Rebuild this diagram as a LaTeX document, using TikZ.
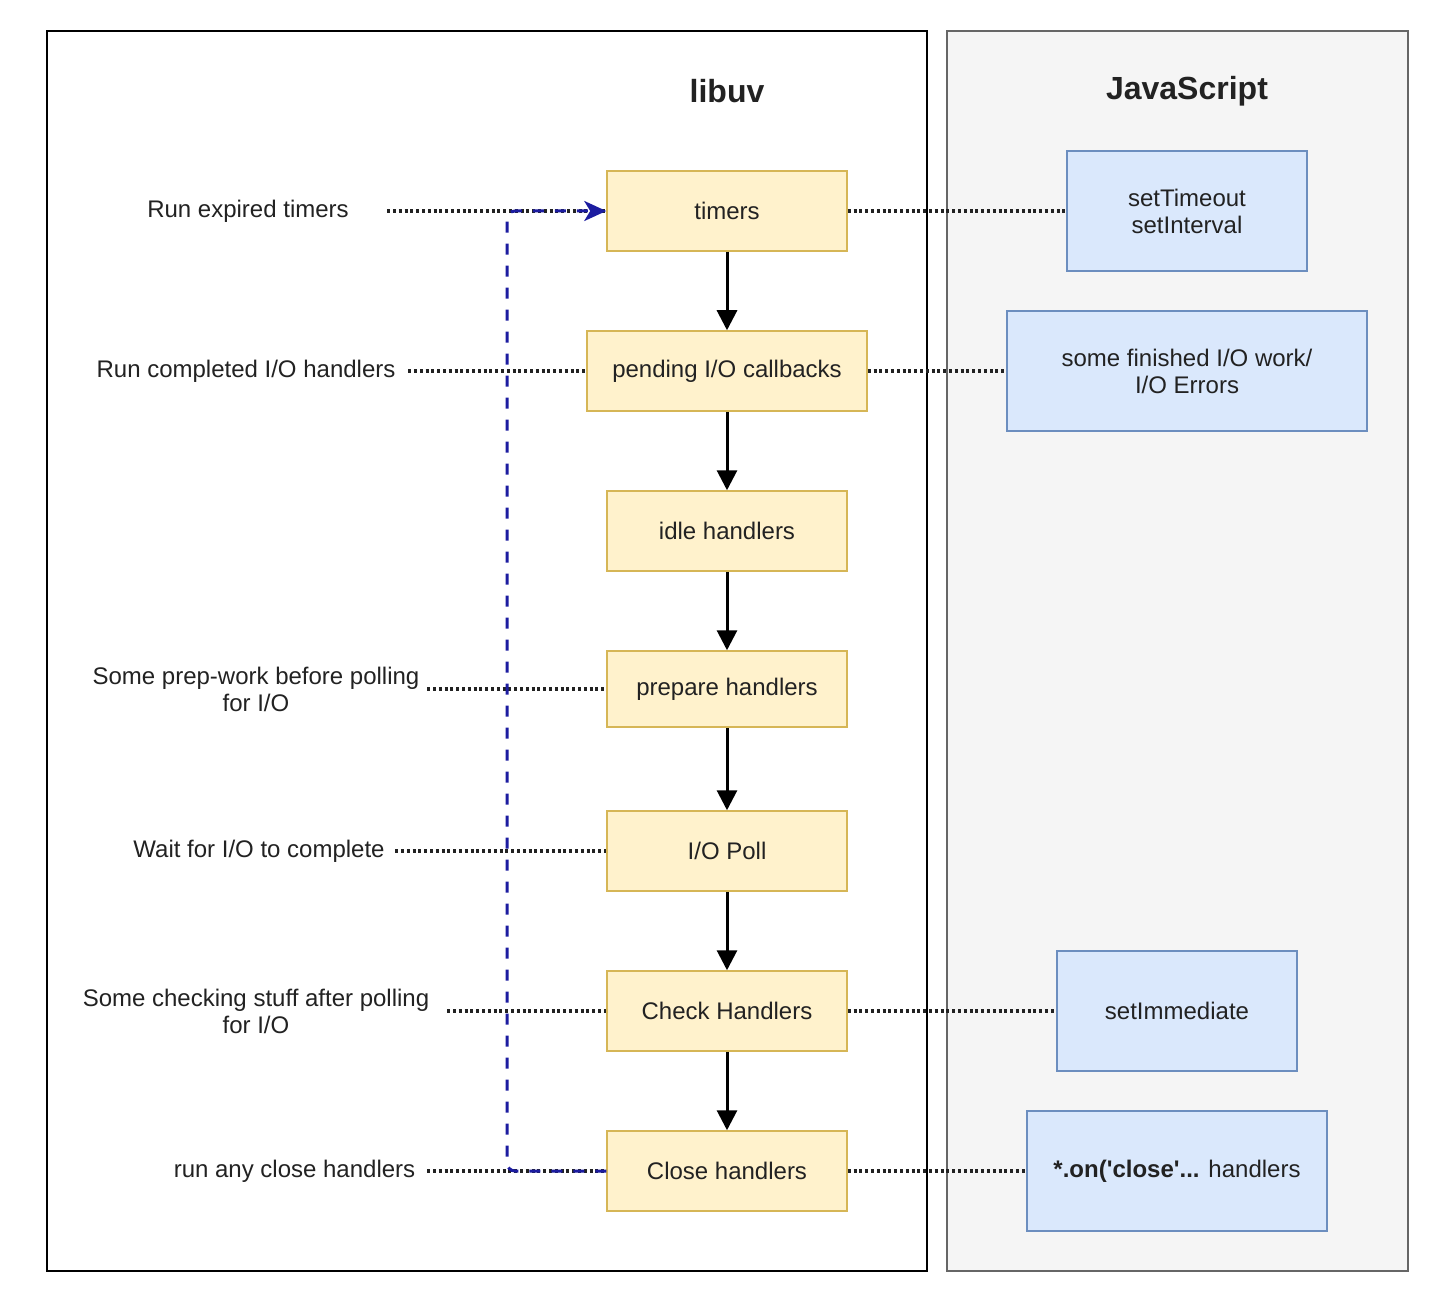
\documentclass[tikz,border=0pt]{standalone}
\usepackage{fontspec}
\setmainfont{Liberation Sans}
\usetikzlibrary{arrows.meta}
\definecolor{yfill}{HTML}{FFF2CC}
\definecolor{ydraw}{HTML}{D6B656}
\definecolor{bfill}{HTML}{DAE8FC}
\definecolor{bdraw}{HTML}{6C8EBF}
\definecolor{jsfill}{HTML}{F5F5F5}
\definecolor{jsdraw}{HTML}{666666}
\definecolor{txt}{HTML}{222222}
\definecolor{loopblue}{RGB}{28,28,160}
\tikzset{
  base/.style={font=\fontsize{24}{27}\selectfont, text=txt, align=center, inner sep=0pt},
  phase/.style={base, draw=ydraw, fill=yfill, line width=1.5pt, minimum height=80pt, minimum width=240pt},
  jsbox/.style={base, draw=bdraw, fill=bfill, line width=1.5pt, minimum height=120pt},
  lbl/.style={base, minimum height=40pt},
  title/.style={font=\fontsize{32}{36}\selectfont\bfseries, text=txt},
  flow/.style={line width=3pt, black, -{Triangle[length=20pt,width=20pt]}},
  dots/.style={line width=3.2pt, txt, dash pattern=on 3pt off 2.8pt},
  loopline/.style={line width=3pt, loopblue, dash pattern=on 11pt off 11pt, rounded corners=8pt, -{Stealth[length=22pt,width=20pt,inset=6pt]}}
}
\begin{document}
\begin{tikzpicture}[x=1pt,y=-1pt]
\useasboundingbox (0,0) rectangle (1444,1292);
% panels
\draw[line width=2pt, black, fill=white] (47,31) rectangle (927,1271);
\draw[line width=2pt, jsdraw, fill=jsfill] (947,31) rectangle (1408,1271);
\node[title] (libuv) at (727,91) {libuv};
\node[title] (js) at (1187,91) {JavaScript};
% phases
\node[phase] (timers) at (727,211) {timers};
\node[phase, minimum width=280pt] (pending) at (727,371) {pending I/O callbacks};
\node[phase] (idle) at (727,531) {idle handlers};
\node[phase, minimum height=76pt] (prepare) at (727,689) {prepare handlers};
\node[phase] (poll) at (727,851) {I/O Poll};
\node[phase] (check) at (727,1011) {Check Handlers};
\node[phase] (close) at (727,1171) {Close handlers};
% js boxes
\node[jsbox, minimum width=240pt] (st) at (1187,211) {setTimeout\\setInterval};
\node[jsbox, minimum width=360pt] (io) at (1187,371) {some finished I/O work/\\I/O Errors};
\node[jsbox, minimum width=240pt] (si) at (1177,1011) {setImmediate};
\node[jsbox, minimum width=300pt] (onc) at (1177,1171) {\textbf{*.on(\textquotesingle close\textquotesingle...} handlers};
% left labels
\node[lbl, minimum width=278pt] (l1) at (248,211) {Run expired timers};
\node[lbl, minimum width=324pt] (l2) at (246,371) {Run completed I/O handlers};
\node[lbl, minimum width=342pt] (l3) at (256,689) {Some prep-work before polling\\for I/O};
\node[lbl, minimum width=272pt] (l4) at (259,851) {Wait for I/O to complete};
\node[lbl, minimum width=382pt] (l5) at (256,1011) {Some checking stuff after polling\\for I/O};
\node[lbl, minimum width=265pt] (l6) at (294.5,1171) {run any close handlers};
% flow arrows
\draw[flow] (timers) -- (pending);
\draw[flow] (pending) -- (idle);
\draw[flow] (idle) -- (prepare);
\draw[flow] (prepare) -- (poll);
\draw[flow] (poll) -- (check);
\draw[flow] (check) -- (close);
% dotted connectors
\draw[dots] (l1.east) -- (timers.west);
\draw[dots] (l2.east) -- (pending.west);
\draw[dots] (l3.east) -- (prepare.west);
\draw[dots] (l4.east) -- (poll.west);
\draw[dots] (l5.east) -- (check.west);
\draw[dots] (l6.east) -- (close.west);
\draw[dots] (timers.east) -- (st.west);
\draw[dots] (pending.east) -- (io.west);
\draw[dots] (check.east) -- (si.west);
\draw[dots] (close.east) -- (onc.west);
% loop back
\coordinate (lp) at (507,700);
\draw[loopline] (close.west) -| (lp) |- (timers.west);
\end{tikzpicture}
\end{document}
